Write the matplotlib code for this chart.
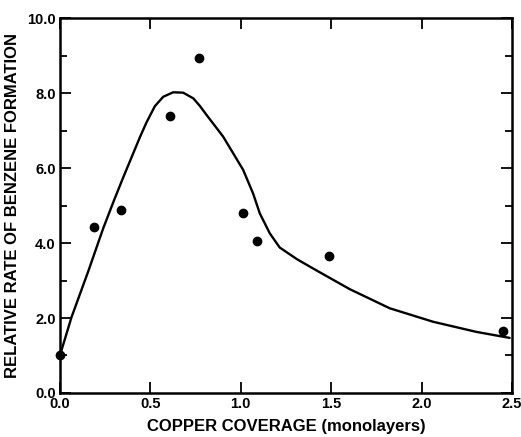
import matplotlib
matplotlib.use("Agg")
import matplotlib.pyplot as plt
from matplotlib.ticker import MultipleLocator, FormatStrFormatter

plt.rcParams['font.family'] = ['Liberation Sans', 'DejaVu Sans']
plt.rcParams['font.weight'] = 'bold'

# Measured rates
coverage = [0.0, 0.19, 0.34, 0.61, 0.77, 1.01, 1.09, 1.49, 2.45]
rate = [1.0, 4.42, 4.88, 7.39, 8.93, 4.80, 4.05, 3.65, 1.65]

# Drawn trend curve
curve_x = [0.0, 0.064, 0.157, 0.24, 0.30, 0.35, 0.442, 0.479, 0.525, 0.571,
           0.626, 0.681, 0.737, 0.773, 0.81, 0.902, 0.957, 1.013, 1.068, 1.105,
           1.16, 1.215, 1.31, 1.418, 1.602, 1.823, 2.063, 2.302, 2.486]
curve_y = [1.0, 2.02, 3.25, 4.40, 5.15, 5.75, 6.82, 7.22, 7.65, 7.90,
           8.02, 8.01, 7.86, 7.66, 7.42, 6.84, 6.40, 5.95, 5.32, 4.79,
           4.26, 3.88, 3.57, 3.27, 2.77, 2.26, 1.90, 1.63, 1.47]

fig = plt.figure(figsize=(5.21, 4.37), dpi=100)
ax = fig.add_axes([0.115, 0.1007, 0.868, 0.858])

ax.plot(curve_x, curve_y, color='black', lw=1.7, solid_joinstyle='round',
        solid_capstyle='round')
ax.plot(coverage, rate, 'o', color='black', ms=6, clip_on=False)

ax.set_xlim(0, 2.5)
ax.set_ylim(0, 10)
ax.xaxis.set_major_locator(MultipleLocator(0.5))
ax.yaxis.set_major_locator(MultipleLocator(2.0))
ax.yaxis.set_minor_locator(MultipleLocator(1.0))
ax.xaxis.set_major_formatter(FormatStrFormatter('%.1f'))
ax.yaxis.set_major_formatter(FormatStrFormatter('%.1f'))

ax.tick_params(axis='both', which='both', direction='in', top=True, right=True,
               width=1.3, labelsize=10.5, pad=3)
ax.tick_params(axis='both', which='major', length=8)
ax.tick_params(axis='both', which='minor', length=5)
for lab in ax.get_xticklabels() + ax.get_yticklabels():
    lab.set_fontweight('bold')

for sp in ax.spines.values():
    sp.set_linewidth(1.8)

ax.set_xlabel('COPPER COVERAGE (monolayers)', fontsize=12, fontweight='bold', labelpad=6)
ax.set_ylabel('RELATIVE RATE OF BENZENE FORMATION', fontsize=12, fontweight='bold', labelpad=5)

fig.savefig('out.png', dpi=100)
